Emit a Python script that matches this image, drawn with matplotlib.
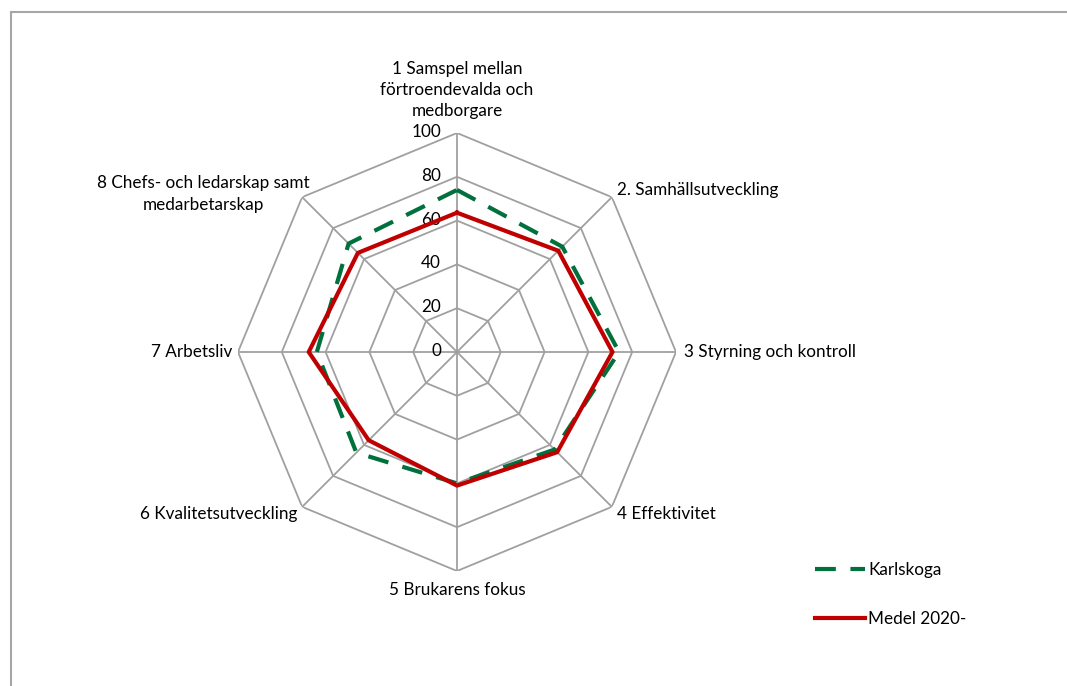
import numpy as np
import matplotlib
matplotlib.use('Agg')
import matplotlib.pyplot as plt
from matplotlib.patches import Rectangle
import matplotlib.transforms as mtransforms

plt.rcParams['font.family'] = ['Lato', 'DejaVu Sans']

categories = ['1 Samspel mellan\nförtroendevalda och\nmedborgare',
              '2. Samhällsutveckling',
              '3 Styrning och kontroll',
              '4 Effektivitet',
              '5 Brukarens fokus',
              '6 Kvalitetsutveckling',
              '7 Arbetsliv',
              '8 Chefs- och ledarskap samt\nmedarbetarskap']
karlskoga = [74, 68, 74, 63, 60, 65, 64, 70]
medel = [63.6, 65.4, 71, 64.7, 61, 57, 67.7, 64]
ticks = [0, 20, 40, 60, 80, 100]

W, H = 1067, 686
fs = 12.3
fig = plt.figure(figsize=(W / 100, H / 100), dpi=100)

# border of the chart area (runs off the right and bottom)
fig.patches.append(Rectangle((10.5 / W, -0.1), 1.2, 1 - 11.5 / H + 0.1,
                             transform=fig.transFigure, fill=False,
                             edgecolor='#a6a6a6', linewidth=1.5))

cx, cy, rad = 457 / W, 1 - 352 / H, 219
ax = fig.add_axes([cx - rad / W, cy - rad / H, 2 * rad / W, 2 * rad / H],
                  projection='polar')
ax.set_theta_offset(np.pi / 2)
ax.set_theta_direction(-1)
ax.set_ylim(0, 100)
ax.grid(False)
ax.axis('off')

n = len(categories)
theta = np.arange(n) * 2 * np.pi / n
closed = np.append(theta, theta[0])

grid_c = '#a0a0a0'
for t in ticks[1:]:
    ax.plot(closed, [t] * (n + 1), color=grid_c, lw=1.3, zorder=1)
for th in theta:
    ax.plot([th, th], [0, 100], color=grid_c, lw=1.3, zorder=1)

# radial tick labels left of the top spoke
off = mtransforms.offset_copy(ax.transData, fig=fig, x=-16, y=1, units='dots')
for t in ticks:
    ax.text(0, t, str(t), transform=off, ha='right', va='center',
            fontsize=fs, color='#000000')

ax.plot(closed, karlskoga + karlskoga[:1], color='#00703c', lw=3,
        dashes=(5, 3.5), zorder=3, label='Karlskoga')
ax.plot(closed, medel + medel[:1], color='#c00000', lw=3, zorder=4,
        label='Medel 2020-')

# category labels, placed in pixels relative to the centre
lab_pos = [(0, 0, 'center', 'bottom'),
           (160, 162, 'left', 'center'),
           (227, 0, 'left', 'center'),
           (160, -162, 'left', 'center'),
           (0, -238, 'center', 'center'),
           (-160, -162, 'right', 'center'),
           (-225, 0, 'right', 'center'),
           (-147, 158, 'right', 'center')]
for lab, (dx, dy, ha, va) in zip(categories, lab_pos):
    if dx == 0 and dy == 0:
        y = cy + (rad + 14) / H
    else:
        y = cy + dy / H
    fig.text(cx + dx / W, y, lab, ha=ha, va=va, fontsize=fs,
             multialignment='center', linespacing=1.4)

leg = fig.legend(loc='upper left', bbox_to_anchor=(800 / W, 1 - 547 / H),
                 frameon=False, fontsize=fs, handlelength=2.9,
                 labelspacing=1.9, handletextpad=0.2)

fig.savefig('out.png', dpi=100, facecolor='white')
